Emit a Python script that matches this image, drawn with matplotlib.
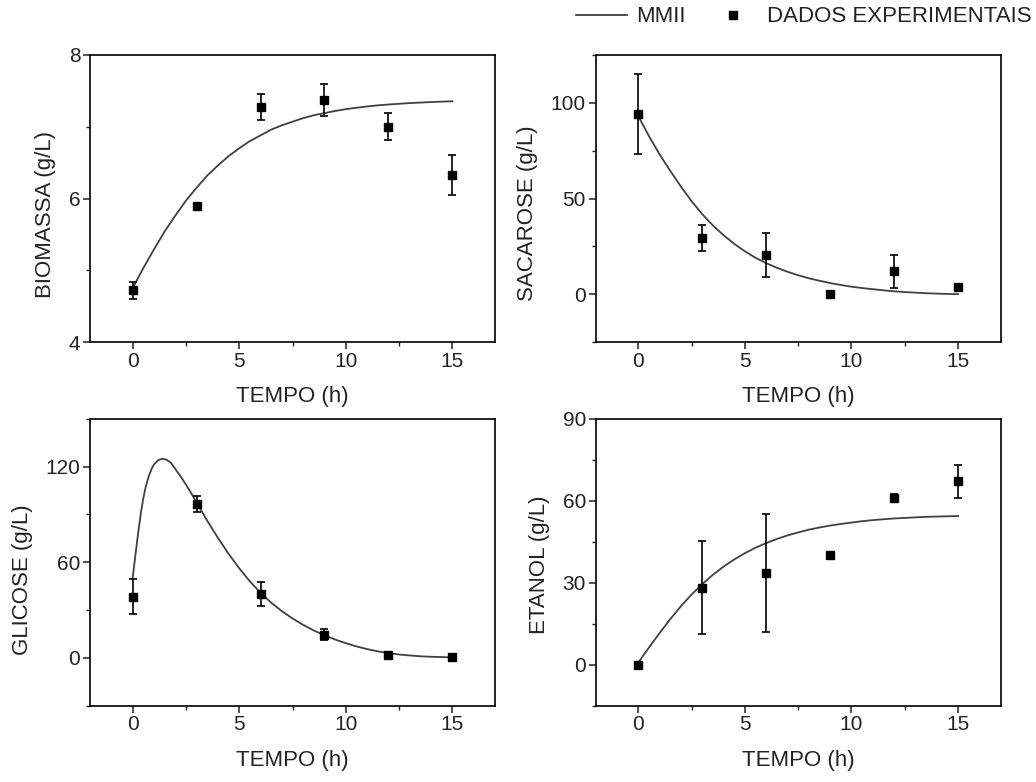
import matplotlib
matplotlib.use('Agg')
import matplotlib.pyplot as plt
from matplotlib.lines import Line2D
from matplotlib.ticker import MultipleLocator

plt.rcParams['font.family'] = ['Liberation Sans', 'DejaVu Sans']
plt.rcParams['font.size'] = 16
plt.rcParams['xtick.labelsize'] = 15
plt.rcParams['ytick.labelsize'] = 15
plt.rcParams['text.color'] = '#222222'
plt.rcParams['axes.labelcolor'] = '#222222'
plt.rcParams['xtick.color'] = '#222222'
plt.rcParams['ytick.color'] = '#222222'

# experimental points (mean +- error)
t_exp = [0, 3, 6, 9, 12, 15]
biomassa = [4.72, 5.90, 7.28, 7.37, 7.00, 6.33]
biomassa_err = [0.12, 0.03, 0.18, 0.22, 0.19, 0.28]
sacarose = [94.1, 29.5, 20.6, 0.0, 11.9, 4.0]
sacarose_err = [20.8, 6.9, 11.4, 0.0, 8.8, 1.5]
glicose = [38.4, 96.5, 40.0, 14.5, 1.7, 0.4]
glicose_err = [11.0, 5.0, 7.6, 3.3, 1.0, 0.0]
etanol = [0.0, 28.1, 33.6, 40.0, 61.1, 67.1]
etanol_err = [0.0, 17.0, 21.5, 0.0, 1.5, 6.0]

# MMII model curves
t_mod = [0, 0.5, 1, 1.5, 2, 2.5, 3, 3.5, 4, 4.5, 5, 5.5, 6, 6.5, 7, 7.5,
         8, 8.5, 9, 9.5, 10, 10.5, 11, 11.5, 12, 12.5, 13, 13.5, 14, 14.5, 15]
biomassa_mod = [4.75, 5.03, 5.29, 5.54, 5.76, 5.97, 6.15, 6.32, 6.46, 6.59,
                6.70, 6.80, 6.88, 6.96, 7.02, 7.07, 7.12, 7.16, 7.19, 7.22,
                7.245, 7.265, 7.283, 7.298, 7.31, 7.32, 7.33, 7.337, 7.344,
                7.35, 7.355]
sacarose_mod = [93.0, 82.6, 73.0, 64.4, 56.2, 48.6, 41.8, 35.9, 30.8, 26.3,
                22.4, 19.0, 16.2, 13.8, 11.7, 9.9, 8.3, 7.0, 5.8, 4.8,
                3.9, 3.2, 2.6, 2.0, 1.5, 1.1, 0.8, 0.5, 0.3, 0.1, 0.0]
etanol_mod = [0.8, 6.3, 11.6, 16.7, 21.4, 25.7, 29.5, 32.9, 35.9, 38.5,
              40.8, 42.8, 44.5, 46.0, 47.3, 48.4, 49.4, 50.2, 50.9, 51.5,
              52.0, 52.5, 52.9, 53.2, 53.5, 53.7, 53.9, 54.1, 54.2, 54.3, 54.4]
t_glic = [0, 0.1, 0.2, 0.3, 0.4, 0.5, 0.6, 0.7, 0.8, 0.9, 1.0, 1.2, 1.4,
          1.6, 1.8, 2.0, 2.25, 2.5, 2.75, 3.0, 3.5, 4, 4.5, 5, 5.5, 6, 6.5,
          7, 7.5, 8, 8.5, 9, 9.5, 10, 10.5, 11, 11.5, 12, 12.5, 13, 13.5,
          14, 14.5, 15]
glicose_mod = [50, 61, 72, 82.5, 92, 100, 106.5, 111.5, 115.5, 118.8, 121.3,
               124.0, 124.9, 124.2, 122.3, 118.5, 113.8, 108.7, 103.2, 97.5,
               86.0, 75.3, 65.3, 56.2, 48.0, 40.8, 34.6, 29.3, 24.7, 20.7,
               17.2, 14.2, 11.5, 9.2, 7.2, 5.5, 4.1, 3.0, 2.1, 1.5, 1.0, 0.7,
               0.5, 0.3]

panels = [
    # left/bottom in px, label, label y, data, model, ylim, major, minor
    (90, 342, 'BIOMASSA (g/L)', 0.443, biomassa, biomassa_err, t_mod, biomassa_mod, (4, 8), 2, 1),
    (595.7, 342, 'SACAROSE (g/L)', 0.45, sacarose, sacarose_err, t_mod, sacarose_mod, (-25, 125), 50, 25),
    (90, 705.7, 'GLICOSE (g/L)', 0.44, glicose, glicose_err, t_glic, glicose_mod, (-30, 150), 60, 30),
    (595.7, 705.7, 'ETANOL (g/L)', 0.49, etanol, etanol_err, t_mod, etanol_mod, (-15, 90), 30, 15),
]

W, H = 1036, 782
fig = plt.figure(figsize=(W / 100, H / 100), dpi=100)

for left, bottom, label, ly, y, yerr, tm, ym, ylim, major, minor in panels:
    ax = fig.add_axes([left / W, 1 - bottom / H, 405 / W, 287 / H])
    ax.plot(tm, ym, color='#404040', lw=1.3, zorder=2)
    ax.errorbar(t_exp, y, yerr=yerr, fmt='s', color='black', ms=6,
                elinewidth=1.2, capsize=3.2, capthick=1.2, zorder=3)
    ax.set_xlim(-2, 17)
    ax.set_ylim(*ylim)
    ax.xaxis.set_major_locator(MultipleLocator(5))
    ax.xaxis.set_minor_locator(MultipleLocator(2.5))
    ax.yaxis.set_major_locator(MultipleLocator(major))
    ax.yaxis.set_minor_locator(MultipleLocator(minor))
    ax.tick_params(which='major', direction='out', length=5, width=1.1, pad=2)
    ax.tick_params(which='minor', direction='out', length=3, width=1.0)
    for s in ax.spines.values():
        s.set_linewidth(1.2)
    ax.set_xlabel('TEMPO (h)', labelpad=11)
    ax.set_ylabel(label, labelpad=9)
    ax.yaxis.label.set_y(ly)

handles = [
    Line2D([], [], color='#404040', lw=1.3),
    Line2D([], [], color='black', marker='s', ms=6, ls='none'),
]
fig.legend(handles, ['MMII', 'DADOS EXPERIMENTAIS'], ncol=2, frameon=False,
           loc='center right', bbox_to_anchor=(1032 / W, 1 - 17 / H),
           borderpad=0, borderaxespad=0, handlelength=2.3, handletextpad=0.4,
           columnspacing=1.0)

fig.savefig('out.png', dpi=100)
